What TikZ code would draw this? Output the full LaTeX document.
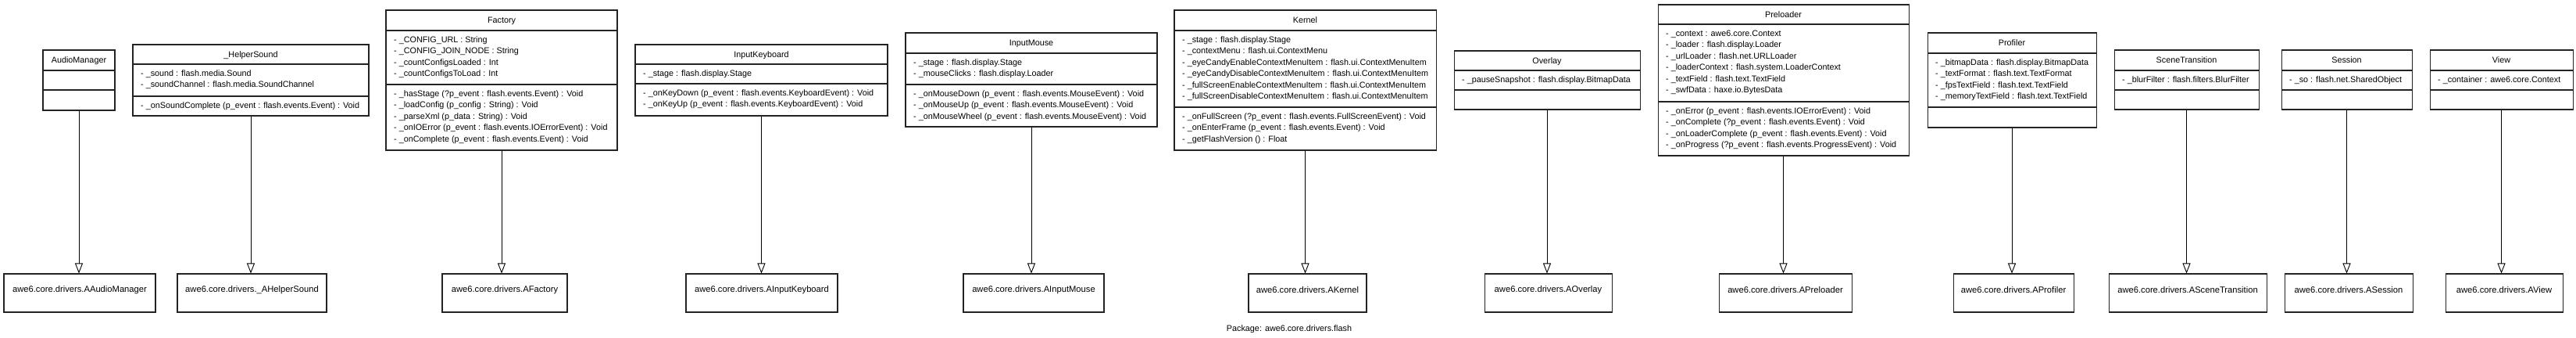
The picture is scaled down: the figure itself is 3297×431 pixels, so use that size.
\documentclass[tikz,border=0pt]{standalone}
\usepackage{fontspec}
\setmainfont{Liberation Sans}
\usetikzlibrary{fit,arrows.meta}
\newcommand\umlstrut{\rule{0pt}{8.5pt}}
\newcommand\classbox[8]{%
  \node[clsbox, fit={(#2,#4) (#3,#7)}] (#1) {};
  \draw[divline] (#2,#5) -- (#3,#5);
  \draw[divline] (#2,#6) -- (#3,#6);
  \node[clstitle] (#1-title) at ({(#2+#3)/2},{(#4+#5)/2}) {#8};
}
\newcommand\compart[4]{%
  \node[cmptext] (#1) at (#2+10,#3+6.8) {#4};
}
\newcommand\impl[4]{%
  \node[implnode, fit={(#2,350) (#3,399)}] (#1) {#4};
}
\begin{document}
\begin{tikzpicture}[x=1pt,y=-1pt,
  clsbox/.style={draw={rgb,255:red,35;green,35;blue,35}, line width=1.05pt, inner sep=0pt},
  divline/.style={draw={rgb,255:red,35;green,35;blue,35}, line width=1.05pt},
  clstitle/.style={inner sep=0pt, text height=7.7pt, text depth=0pt, font=\fontsize{10.8}{14.4}\selectfont},
  cmptext/.style={anchor=north west, inner sep=0pt, align=left, font=\fontsize{10.8}{14.4}\selectfont},
  implnode/.style={draw={rgb,255:red,35;green,35;blue,35}, line width=1.05pt, inner sep=0pt, text height=7.7pt, text depth=0pt, font=\fontsize{11.2}{14}\selectfont},
  pkg/.style={inner sep=0pt, text height=7.7pt, text depth=0pt, font=\fontsize{10.8}{14}\selectfont},
  inh/.style={draw=black, line width=0.9pt, -{Triangle[open, length=13pt, width=10pt]}}
]
\fill[white] (0,0) rectangle (3297,431);
\useasboundingbox (0,0) rectangle (3297,431);

% ---- class boxes ----
\classbox{am}{55}{147}{64}{90}{115}{141}{AudioManager}

\classbox{hs}{170}{472}{57}{82}{123}{148}{\_HelperSound}
\compart{hsa}{170}{82}{\umlstrut- \_sound : flash.media.Sound\\- \_soundChannel : flash.media.SoundChannel}
\compart{hso}{170}{123}{\umlstrut- \_onSoundComplete (p\_event : flash.events.Event) : Void}

\classbox{fa}{494}{790}{13}{39}{108}{192}{Factory}
\compart{faa}{494}{39}{\umlstrut- \_CONFIG\_URL : String\\- \_CONFIG\_JOIN\_NODE : String\\- \_countConfigsLoaded : Int\\- \_countConfigsToLoad : Int}
\compart{fao}{494}{108}{\umlstrut- \_hasStage (?p\_event : flash.events.Event) : Void\\- \_loadConfig (p\_config : String) : Void\\- \_parseXml (p\_data : String) : Void\\- \_onIOError (p\_event : flash.events.IOErrorEvent) : Void\\- \_onComplete (p\_event : flash.events.Event) : Void}

\classbox{ik}{813}{1136}{57}{82}{107}{148}{InputKeyboard}
\compart{ika}{813}{82}{\umlstrut- \_stage : flash.display.Stage}
\compart{iko}{813}{107}{\umlstrut- \_onKeyDown (p\_event : flash.events.KeyboardEvent) : Void\\- \_onKeyUp (p\_event : flash.events.KeyboardEvent) : Void}

\classbox{im}{1159}{1481}{42}{68}{108}{162}{InputMouse}
\compart{ima}{1159}{68}{\umlstrut- \_stage : flash.display.Stage\\- \_mouseClicks : flash.display.Loader}
\compart{imo}{1159}{108}{\umlstrut- \_onMouseDown (p\_event : flash.events.MouseEvent) : Void\\- \_onMouseUp (p\_event : flash.events.MouseEvent) : Void\\- \_onMouseWheel (p\_event : flash.events.MouseEvent) : Void}

\classbox{ke}{1503}{1838}{13}{39}{137}{192}{Kernel}
\compart{kea}{1503}{39}{\umlstrut- \_stage : flash.display.Stage\\- \_contextMenu : flash.ui.ContextMenu\\- \_eyeCandyEnableContextMenuItem : flash.ui.ContextMenuItem\\- \_eyeCandyDisableContextMenuItem : flash.ui.ContextMenuItem\\- \_fullScreenEnableContextMenuItem : flash.ui.ContextMenuItem\\- \_fullScreenDisableContextMenuItem : flash.ui.ContextMenuItem}
\compart{keo}{1503}{137}{\umlstrut- \_onFullScreen (?p\_event : flash.events.FullScreenEvent) : Void\\- \_onEnterFrame (p\_event : flash.events.Event) : Void\\- \_getFlashVersion () : Float}

\classbox{ov}{1861}{2099}{65}{90}{115}{140}{Overlay}
\compart{ova}{1861}{90}{\umlstrut- \_pauseSnapshot : flash.display.BitmapData}

\classbox{pr}{2122}{2443}{6}{31}{130}{199}{Preloader}
\compart{pra}{2122}{31}{\umlstrut- \_context : awe6.core.Context\\- \_loader : flash.display.Loader\\- \_urlLoader : flash.net.URLLoader\\- \_loaderContext : flash.system.LoaderContext\\- \_textField : flash.text.TextField\\- \_swfData : haxe.io.BytesData}
\compart{pro}{2122}{130}{\umlstrut- \_onError (p\_event : flash.events.IOErrorEvent) : Void\\- \_onComplete (?p\_event : flash.events.Event) : Void\\- \_onLoaderComplete (p\_event : flash.events.Event) : Void\\- \_onProgress (?p\_event : flash.events.ProgressEvent) : Void}

\classbox{pf}{2467}{2683}{42}{68}{137}{163}{Profiler}
\compart{pfa}{2467}{68}{\umlstrut- \_bitmapData : flash.display.BitmapData\\- \_textFormat : flash.text.TextFormat\\- \_fpsTextField : flash.text.TextField\\- \_memoryTextField : flash.text.TextField}

\classbox{st}{2706}{2891}{64}{90}{115}{140}{SceneTransition}
\compart{sta}{2706}{90}{\umlstrut- \_blurFilter : flash.filters.BlurFilter}

\classbox{se}{2920}{3087}{64}{90}{115}{140}{Session}
\compart{sea}{2920}{90}{\umlstrut- \_so : flash.net.SharedObject}

\classbox{vi}{3110}{3293}{64}{90}{115}{140}{View}
\compart{via}{3110}{90}{\umlstrut- \_container : awe6.core.Context}

% ---- implemented classes ----
\impl{aam}{5}{199}{awe6.core.drivers.AAudioManager}
\impl{ahs}{227}{418}{awe6.core.drivers.\_AHelperSound}
\impl{afa}{566}{726}{awe6.core.drivers.AFactory}
\impl{aik}{878}{1072}{awe6.core.drivers.AInputKeyboard}
\impl{aim}{1233}{1413}{awe6.core.drivers.AInputMouse}
\impl{ake}{1598}{1749}{awe6.core.drivers.AKernel}
\impl{aov}{1900}{2063}{awe6.core.drivers.AOverlay}
\impl{apr}{2200}{2370}{awe6.core.drivers.APreloader}
\impl{apf}{2500}{2654}{awe6.core.drivers.AProfiler}
\impl{ast}{2699}{2901}{awe6.core.drivers.ASceneTransition}
\impl{ase}{2924}{3088}{awe6.core.drivers.ASession}
\impl{avi}{3130}{3280}{awe6.core.drivers.AView}

% ---- inheritance connectors ----
\draw[inh] (am.south) -- (am.south |- aam.north);
\draw[inh] (hs.south) -- (hs.south |- ahs.north);
\draw[inh] (fa.south) -- (fa.south |- afa.north);
\draw[inh] (ik.south) -- (ik.south |- aik.north);
\draw[inh] (im.south) -- (im.south |- aim.north);
\draw[inh] (ke.south) -- (ke.south |- ake.north);
\draw[inh] (ov.south) -- (ov.south |- aov.north);
\draw[inh] (pr.south) -- (pr.south |- apr.north);
\draw[inh] (pf.south) -- (pf.south |- apf.north);
\draw[inh] (st.south) -- (st.south |- ast.north);
\draw[inh] (se.south) -- (se.south |- ase.north);
\draw[inh] (vi.south) -- (vi.south |- avi.north);

\node[pkg] (pkg) at (1650,420) {Package: awe6.core.drivers.flash};
\end{tikzpicture}
\end{document}
